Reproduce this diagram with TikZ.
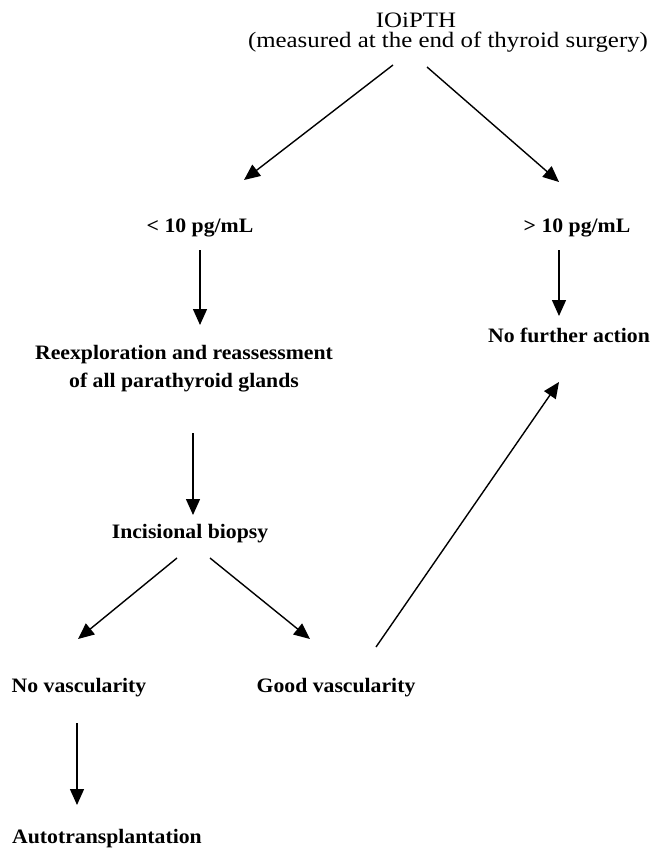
\documentclass[tikz,border=0pt]{standalone}
\usepackage{fontspec}
\setmainfont{Liberation Serif}
\newfontfamily\topfont{Liberation Serif}[FakeStretch=1.13]
\newfontfamily\lblfont{Liberation Serif}[FakeStretch=1.06]
\usetikzlibrary{arrows.meta,calc}
\tikzset{
  x=1pt,y=-1pt,
  lbl/.style={inner sep=0pt,anchor=base,font=\lblfont\fontsize{20.5}{28}\selectfont\bfseries,align=center},
  toplbl/.style={inner sep=0pt,anchor=base,font=\topfont\fontsize{22}{22}\selectfont,align=center},
  arr/.style={line width=1.4pt,-{Triangle[length=16pt,width=14pt]}}
}
\begin{document}
\begin{tikzpicture}
\useasboundingbox (0,0) rectangle (653,848);
\node[toplbl] (title) at (416,28) {IOiPTH};
\node[toplbl] (top) at (448,48) {(measured at the end of thyroid surgery)};
\node[lbl] (lt) at (200,232) {< 10 pg/mL};
\node[lbl] (gt) at (577,232) {> 10 pg/mL};
\node[lbl] (reexp) at (184,387) {Reexploration and reassessment\\of all parathyroid glands};
\node[lbl] (nfa) at (569,342) {No further action};
\node[lbl] (inc) at (190,538) {Incisional biopsy};
\node[lbl] (nv) at (79,692) {No vascularity};
\node[lbl] (gv) at (336,692) {Good vascularity};
\node[lbl] (auto) at (107,843) {Autotransplantation};

\draw[arr] ($(top.base)+(-55,17)$) -- ($(lt.base)+(44,-52)$);
\draw[arr] ($(top.base)+(-21,19)$) -- ($(gt.base)+(-18,-50)$);
\draw[arr] ($(lt.base)+(0,18)$) -- ($(reexp.base)+(16,-62)$);
\draw[arr] ($(gt.base)+(-18,18)$) -- ($(nfa.base)+(-10,-26)$);
\draw[arr] ($(reexp.base)+(9,46)$) -- ($(inc.base)+(3,-23)$);
\draw[arr] ($(inc.base)+(-13,20)$) -- ($(nv.base)+(-1,-53)$);
\draw[arr] ($(inc.base)+(20,20)$) -- ($(gv.base)+(-26,-53)$);
\draw[arr] ($(gv.base)+(40,-45)$) -- ($(nfa.base)+(-10,40)$);
\draw[arr] ($(nv.base)+(-2,31)$) -- ($(auto.base)+(-30,-38)$);
\end{tikzpicture}
\end{document}
